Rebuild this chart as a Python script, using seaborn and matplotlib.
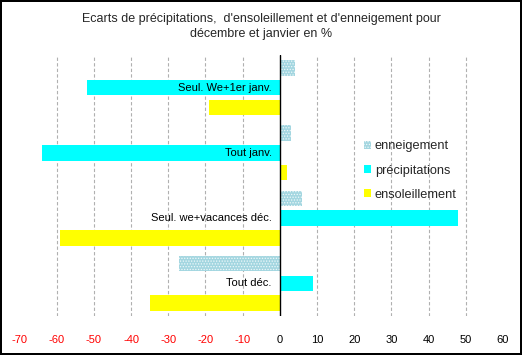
import pandas as pd
import numpy as np
import matplotlib
matplotlib.use('Agg')
import matplotlib.pyplot as plt
import matplotlib.patches as mpatches
import seaborn as sns

# données (écarts en %)
categories = ["Seul. We+1er janv.", "Tout janv.", "Seul. we+vacances déc.", "Tout déc."]
series = ["enneigement", "précipitations", "ensoleillement"]
enneigement = [4, 3, 6, -27]
precipitations = [-52, -64, 48, 9]
ensoleillement = [-19, 2, -59, -35]
xticks = list(range(-70, 61, 10))

couleurs = {"enneigement": "#a3d6e0", "précipitations": "#00ffff", "ensoleillement": "#ffff00"}

df = pd.DataFrame({
    "categorie": categories * 3,
    "serie": [s for s in series for _ in categories],
    "valeur": enneigement + precipitations + ensoleillement,
})

sns.set_theme(style="white")
plt.rcParams['font.family'] = ['Liberation Sans', 'DejaVu Sans']
plt.rcParams['hatch.linewidth'] = 0.6

fig = plt.figure(figsize=(5.22, 3.55), dpi=100)
fig.patch.set_edgecolor("black")
fig.patch.set_linewidth(1.5)
ax = fig.add_axes([0.0375, 0.11, 0.926, 0.735])

sns.barplot(data=df, x="valeur", y="categorie", hue="serie", orient="h",
            order=categories, hue_order=series, palette=couleurs,
            width=0.91, gap=0.22, linewidth=0, saturation=1, ax=ax, legend=False)

# motif pointillé pour l'enneigement
for barre in ax.containers[0]:
    barre.set_hatch("......")
    barre.set_edgecolor("#eef8fa")
    barre.set_linewidth(0)

ax.set_xlim(-70, 60)
ax.set_ylim(3.5, -0.5)
ax.set_xticks(xticks)
ax.set_xticklabels([str(t) for t in xticks], fontsize=8)
for lab, t in zip(ax.get_xticklabels(), xticks):
    lab.set_color("red" if t < 0 else "black")
ax.tick_params(axis="x", length=0, pad=14)
ax.set_yticks([])
ax.set_xlabel("")
ax.set_ylabel("")
for s in ax.spines.values():
    s.set_visible(False)

# grille pointillée et axe zéro
for t in xticks[1:-1]:
    if t != 0:
        ax.axvline(t, color="#b0b0b0", linestyle=(0, (3, 2)), linewidth=0.8, zorder=0)
ax.axvline(0, color="black", linewidth=1, zorder=3)

# libellés des catégories à côté de l'axe zéro
for i, c in enumerate(categories):
    ax.annotate(c, xy=(0, i), xytext=(-6, 0), textcoords="offset points",
                ha="right", va="center", fontsize=8, color="black", zorder=4)

fig.suptitle("Ecarts de précipitations,  d'ensoleillement et d'enneigement pour\ndécembre et janvier en %",
             y=0.962, fontsize=9, linespacing=1.3)

poignees = [mpatches.Patch(facecolor=couleurs[s], edgecolor="#eef8fa", linewidth=0,
                           hatch="......" if s == "enneigement" else None) for s in series]
fig.legend(poignees, series, loc="upper left", bbox_to_anchor=(0.675, 0.637),
           frameon=False, fontsize=9.2, handlelength=0.55, handleheight=0.55,
           handletextpad=0.3, labelspacing=0.95)

fig.savefig("out.png", dpi=100)
